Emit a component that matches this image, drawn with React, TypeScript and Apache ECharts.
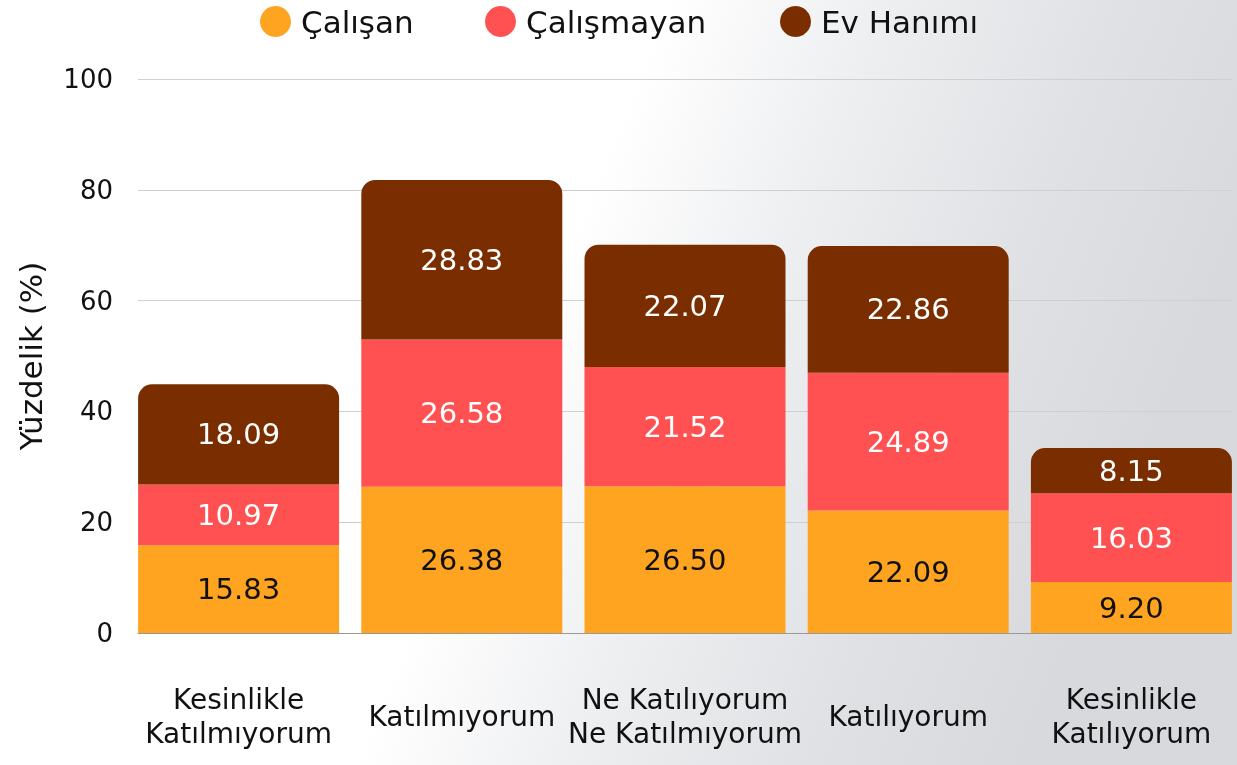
import React, { useEffect, useRef } from "react";
import * as echarts from "echarts";

const categories = [
  "Kesinlikle\nKatılmıyorum",
  "Katılmıyorum",
  "Ne Katılıyorum\nNe Katılmıyorum",
  "Katılıyorum",
  "Kesinlikle\nKatılıyorum",
];
const calisan = [15.83, 26.38, 26.5, 22.09, 9.2];
const calismayan = [10.97, 26.58, 21.52, 24.89, 16.03];
const evHanimi = [18.09, 28.83, 22.07, 22.86, 8.15];
const seriesNames = ["Çalışan", "Çalışmayan", "Ev Hanımı"];
const colors = ["#FFA420", "#FF5151", "#7A2E00"];

const FONT = "'DejaVu Sans', 'Noto Sans', sans-serif";

export default function App() {
  const ref = useRef<HTMLDivElement>(null);
  useEffect(() => {
    if (!ref.current) return;
    const chart = echarts.init(ref.current, null, { renderer: "svg" });
    const data = [calisan, calismayan, evHanimi];
    const labelColors = ["#111111", "#ffffff", "#ffffff"];
    const legendLefts = [255, 480, 775];
    chart.setOption({
      animation: false,
      textStyle: { fontFamily: FONT },
      graphic: [
        {
          type: "rect",
          z: -10,
          silent: true,
          shape: { x: 0, y: 0, width: 1260, height: 765 },
          style: {
            fill: new echarts.graphic.LinearGradient(0, 0, 1, 0.25, [
              { offset: 0, color: "#ffffff" },
              { offset: 0.5, color: "#ffffff" },
              { offset: 0.66, color: "#eeeff1" },
              { offset: 0.84, color: "#e0e1e4" },
              { offset: 1, color: "#d8d9dd" },
            ]),
          },
        },
      ],
      legend: seriesNames.map((n, i) => ({
        data: [n],
        left: legendLefts[i],
        top: 1,
        icon: "circle",
        itemWidth: 31,
        itemHeight: 31,
        textStyle: { fontSize: 31, color: "#111", fontFamily: FONT, padding: [0, 0, 0, 5] },
      })),
      grid: [
        { left: 138, width: 1093, top: 79, bottom: 132 },
        { left: 127, width: 1116, top: 79, bottom: 132 },
      ],
      xAxis: [
        {
          type: "category",
          gridIndex: 0,
          data: categories,
          axisLine: { show: true, lineStyle: { color: "#999999", width: 1 } },
          axisTick: { show: false },
          axisLabel: { show: false },
        },
        {
          type: "category",
          gridIndex: 1,
          data: categories,
          axisLine: { show: false },
          axisTick: { show: false },
          axisLabel: {
            fontSize: 28,
            color: "#111",
            fontFamily: FONT,
            lineHeight: 34,
            verticalAlign: "middle",
            margin: 83,
            interval: 0,
          },
        },
      ],
      yAxis: [
        {
          type: "value",
          gridIndex: 0,
          min: 0,
          max: 100,
          interval: 20,
          name: "Yüzdelik (%)",
          nameLocation: "middle",
          nameRotate: 90,
          nameGap: 92,
          nameTextStyle: { fontSize: 31, color: "#111", fontFamily: FONT },
          axisLabel: { fontSize: 26, color: "#111", margin: 25, fontFamily: FONT },
          axisLine: { show: false },
          axisTick: { show: false },
          splitLine: { lineStyle: { color: "#cfcfcf", width: 1 } },
        },
        {
          type: "value",
          gridIndex: 1,
          min: 0,
          max: 100,
          interval: 20,
          show: false,
          splitLine: { show: false },
        },
      ],
      series: data.map((d, i) => ({
        name: seriesNames[i],
        type: "bar",
        stack: "total",
        xAxisIndex: 1,
        yAxisIndex: 1,
        barWidth: 201,
        data: d,
        itemStyle: {
          color: colors[i],
          borderRadius: i === 2 ? [14, 14, 0, 0] : 0,
        },
        label: {
          show: true,
          position: "inside",
          fontSize: 29,
          color: labelColors[i],
          fontFamily: FONT,
          formatter: (p: any) => Number(p.value).toFixed(2),
        },
      })),
    });
    return () => chart.dispose();
  }, []);
  return (
    <div
      ref={ref}
      style={{ position: "fixed", left: 0, top: 0, width: 1260, height: 765 }}
    />
  );
}
